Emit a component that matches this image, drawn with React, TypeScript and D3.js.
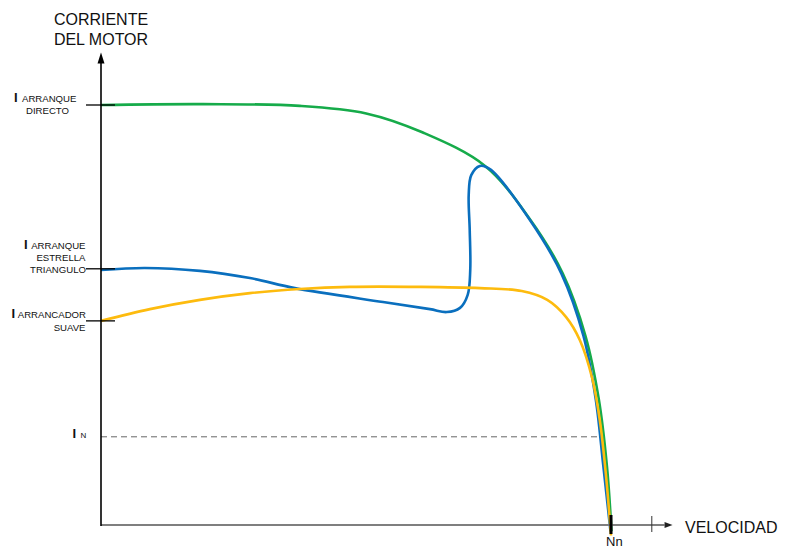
import React from "react";
import * as d3 from "d3";

// speed in % of Nn, current in % of direct-start current
const greenSpeed = [0, 20, 39, 52, 63, 75.3, 84, 90.5, 95, 97.6, 99.2, 100.1];
const greenCurrent = [100, 100.2, 99.8, 98, 93.5, 85.5, 73, 60, 45, 30, 14, -1.5];

const blueSpeed = [0, 8.6, 19.4, 29.2, 38.0, 55.3, 64.5, 67.8, 70.4, 71.9, 72.4, 72.3, 72.1, 72.6, 74.3, 76.4, 84, 90.3, 94.6, 97.0, 98.5, 99.9];
const blueCurrent = [60.7, 61.2, 60.5, 58.8, 56.4, 53.1, 51.4, 50.7, 51.7, 54.8, 60.7, 70.2, 78.6, 83.3, 85.5, 84.6, 72.8, 59.8, 45, 30, 14, -1.5];

const yellowSpeed = [0, 9.6, 19.4, 29.2, 39.0, 48.8, 62.5, 74.3, 82.5, 87.5, 91.2, 93.9, 96.3, 97.8, 99.0, 100];
const yellowCurrent = [48.6, 51.4, 53.6, 55.2, 56.2, 56.7, 56.7, 56.4, 55.7, 53.6, 49.5, 44, 35, 25, 12, -2.5];

const levelDirect = 100;
const levelStarDelta = 61;
const levelSoft = 48.6;
const levelNominal = 21;
const speedNn = 100;
const speedTick = 108;

const W = 788;
const H = 550;

const x = d3.scaleLinear().domain([0, 100]).range([101, 611]);
const y = d3.scaleLinear().domain([0, 100]).range([525, 105]);

const FONT = "'Liberation Sans', Arial, sans-serif";
const LBL = 9.6;

function pathOf(xs: number[], ys: number[]) {
  const pts: [number, number][] = xs.map((v, i) => [v, ys[i]]);
  return d3
    .line<[number, number]>()
    .x((d) => x(d[0]))
    .y((d) => y(d[1]))
    .curve(d3.curveCatmullRom.alpha(0.5))(pts) as string;
}

export default function App() {
  const x0 = x(0);
  const yAxisY = y(0);
  const xEnd = x(110.5);
  const yTop = y(112.5);
  return (
    <svg
      width={W}
      height={H}
      style={{ position: "absolute", left: 0, top: 0, background: "#fff" }}
      fontFamily={FONT}
    >
      {/* nominal dashed line */}
      <line
        x1={x0}
        x2={x(97.5)}
        y1={y(levelNominal)}
        y2={y(levelNominal)}
        stroke="#666"
        strokeWidth={1}
        strokeDasharray="6,4"
      />
      {/* curves */}
      <path d={pathOf(greenSpeed, greenCurrent)} fill="none" stroke="#16ab4a" strokeWidth={2.6} />
      <path d={pathOf(blueSpeed, blueCurrent)} fill="none" stroke="#0a6fbe" strokeWidth={2.6} />
      <path d={pathOf(yellowSpeed, yellowCurrent)} fill="none" stroke="#fdbb0e" strokeWidth={2.6} />

      {/* x axis */}
      <line x1={x0} x2={xEnd} y1={yAxisY} y2={yAxisY} stroke="#7f7f7f" strokeWidth={2} />
      <path
        d={`M${xEnd + 8},${yAxisY} L${xEnd},${yAxisY - 3} L${xEnd},${yAxisY + 3} Z`}
        fill="#222"
      />
      <line x1={x(speedTick)} x2={x(speedTick)} y1={yAxisY - 9} y2={yAxisY + 7} stroke="#333" strokeWidth={1} />
      <line x1={x(speedNn)} x2={x(speedNn)} y1={yAxisY - 10} y2={yAxisY + 9} stroke="#000" strokeWidth={3} />

      {/* y axis */}
      <line x1={x0} x2={x0} y1={yAxisY + 1} y2={yTop + 8} stroke="#000" strokeWidth={1.6} />
      <path d={`M${x0},${yTop} L${x0 - 3.5},${yTop + 11} L${x0 + 3.5},${yTop + 11} Z`} fill="#000" />

      {/* level ticks */}
      {[levelDirect, levelStarDelta, levelSoft].map((l, i) => (
        <line key={i} x1={86} x2={115} y1={y(l)} y2={y(l)} stroke="#000" strokeWidth={1.3} />
      ))}

      {/* titles */}
      <text x={101} y={25} fontSize={16} textAnchor="middle" fill="#111">CORRIENTE</text>
      <text x={101} y={45} fontSize={16} textAnchor="middle" fill="#111">DEL MOTOR</text>
      <text x={685} y={533} fontSize={16} fill="#111">VELOCIDAD</text>
      <text x={606} y={546} fontSize={13} fill="#111">Nn</text>

      {/* label: direct */}
      <text x={14} y={102} fontSize={13} fontWeight="bold" fill="#111">I</text>
      <text x={22} y={102} fontSize={LBL} fill="#111">ARRANQUE</text>
      <text x={26} y={114} fontSize={LBL} fill="#111">DIRECTO</text>

      {/* label: star-delta */}
      <text x={24} y={249} fontSize={13} fontWeight="bold" fill="#111">I</text>
      <text x={85.5} y={249} fontSize={LBL} textAnchor="end" fill="#111">ARRANQUE</text>
      <text x={85.5} y={261} fontSize={LBL} textAnchor="end" fill="#111">ESTRELLA</text>
      <text x={86} y={272.5} fontSize={LBL} textAnchor="end" fill="#111">TRIANGULO</text>

      {/* label: soft starter */}
      <text x={11.5} y={318} fontSize={13} fontWeight="bold" fill="#111">I</text>
      <text x={86} y={318} fontSize={LBL} textAnchor="end" fill="#111">ARRANCADOR</text>
      <text x={85.5} y={331} fontSize={LBL} textAnchor="end" fill="#111">SUAVE</text>

      {/* label: nominal */}
      <text x={72.5} y={438} fontSize={13} fontWeight="bold" fill="#111">I</text>
      <text x={80.5} y={438} fontSize={8} fill="#111">N</text>
    </svg>
  );
}
